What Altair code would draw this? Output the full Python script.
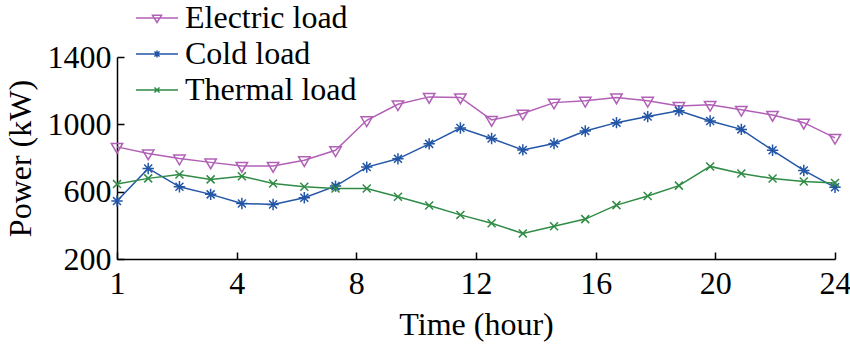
import json
import altair as alt
import pandas as pd

hours = list(range(1, 25))
series_names = ["Electric load", "Cold load", "Thermal load"]
electric = [866, 827, 797, 774, 753, 753, 787, 846, 1024, 1119, 1163, 1160,
            1026, 1064, 1129, 1140, 1160, 1140, 1109, 1116, 1086, 1056, 1010, 920]
cold = [544, 738, 629, 584, 530, 524, 564, 633, 746, 795, 884, 978,
        916, 848, 886, 960, 1010, 1046, 1080, 1020, 970, 846, 726, 626]
thermal = [645, 679, 702, 673, 692, 649, 629, 619, 619, 570, 518, 462,
           412, 352, 395, 437, 520, 574, 636, 750, 708, 678, 660, 652]
x_tick_labels = ["1", "4", "8", "12", "16", "20", "24"]
y_ticks = [200, 600, 1000, 1400]
colors = ["#B160B6", "#2356A6", "#2F8B45"]

rows = []
for name, vals in zip(series_names, [electric, cold, thermal]):
    for h, v in zip(hours, vals):
        rows.append({"hour": h, "value": v, "series": name})
df = pd.DataFrame(rows)

FONT = "Liberation Serif"
FS = 32
W, H = 718, 202
n_ticks = len(x_tick_labels)
x_tick_values = [1 + k * 23 / (n_ticks - 1) for k in range(n_ticks)]
label_expr = json.dumps(x_tick_labels) + "[round((datum.value - 1) * %d / 23)]" % (n_ticks - 1)

xscale = alt.Scale(domain=[1, 24], nice=False, zero=False)
yscale = alt.Scale(domain=[200, 1400], nice=False, zero=False)

# marker paths (unit box -1..1)
tri = "M-1,-0.6L1,-0.6L0,1.1Z"
star = "M-1,0L1,0M0,-1L0,1M-0.7,-0.7L0.7,0.7M-0.7,0.7L0.7,-0.7"
cross = "M-0.7,-0.7L0.7,0.7M-0.7,0.7L0.7,-0.7"
marker_paths = [tri, star, cross]

line_seg = "M-1.4,0L1.4,0"
leg_paths = [
    line_seg + "M-0.3,-0.18L0.3,-0.18L0,0.3Z",
    line_seg + "M-0.24,0L0.24,0M0,-0.24L0,0.24M-0.17,-0.17L0.17,0.17M-0.17,0.17L0.17,-0.17",
    line_seg + "M-0.17,-0.17L0.17,0.17M-0.17,0.17L0.17,-0.17",
]

color_scale = alt.Scale(domain=series_names, range=colors)

bottom_axis = alt.Axis(values=x_tick_values, labelExpr=label_expr, ticks=False, tickSize=0,
                       domainColor="black", domainWidth=1.5, grid=False, labelFlush=False,
                       labelOverlap=False,
                       labelFont=FONT, labelFontSize=FS, labelColor="black", labelPadding=9,
                       title="Time (hour)", titleFont=FONT, titleFontSize=FS,
                       titleFontWeight="normal", titleColor="black", titlePadding=10)
left_axis = alt.Axis(values=y_ticks, format="d", ticks=False, tickSize=0, domainColor="black",
                     domainWidth=1.5, grid=False, labelFlush=False, labelOverlap=False,
                     labelFont=FONT, labelFontSize=FS, labelColor="black", labelPadding=6,
                     title="Power (kW)", titleFont=FONT, titleFontSize=FS,
                     titleFontWeight="normal", titleColor="black", titlePadding=10)
top_axis = alt.Axis(orient="top", offset=-H, values=x_tick_values, labels=False, domain=False,
                    ticks=True, tickSize=7, tickWidth=1.5, tickColor="black", grid=False, title=None)
right_axis = alt.Axis(orient="right", offset=-W, values=y_ticks, labels=False, domain=False,
                      ticks=True, tickSize=7, tickWidth=1.5, tickColor="black", grid=False, title=None)

base = alt.Chart(df)

lines = base.mark_line(strokeWidth=1.5).encode(
    x=alt.X("hour:Q", scale=xscale, axis=bottom_axis),
    y=alt.Y("value:Q", scale=yscale, axis=left_axis),
    color=alt.Color("series:N", scale=color_scale, legend=None),
)

points = base.mark_point(filled=False, strokeWidth=1.5, size=130, opacity=1).encode(
    x=alt.X("hour:Q", scale=xscale, axis=top_axis),
    y=alt.Y("value:Q", scale=yscale, axis=right_axis),
    color=alt.Color("series:N", scale=color_scale, legend=None),
    shape=alt.Shape("series:N", scale=alt.Scale(domain=series_names, range=marker_paths), legend=None),
)

leg = dict(title=None, orient="none", legendX=24, legendY=-55, padding=0,
           symbolSize=900, symbolStrokeWidth=1.5, rowPadding=4, labelOffset=12,
           labelFont=FONT, labelFontSize=FS, labelColor="black", labelLimit=400)

legend_layer = base.transform_filter("false").mark_point(filled=False, opacity=1).encode(
    color=alt.Color("series:N", scale=color_scale, legend=alt.Legend(**leg)),
    shape=alt.Shape("series:N", scale=alt.Scale(domain=series_names, range=leg_paths),
                    legend=alt.Legend(**leg)),
)

chart = alt.layer(lines, points, legend_layer).resolve_scale(
    color="independent", shape="independent"
).resolve_axis(x="independent", y="independent").properties(
    width=W, height=H,
    autosize=alt.AutoSizeParams(type="none"),
    padding={"left": 117, "top": 57, "right": 15, "bottom": 89},
    background="white",
).configure_view(stroke=None)

chart.save("out.html", embed_options={"renderer": "svg", "actions": False})
